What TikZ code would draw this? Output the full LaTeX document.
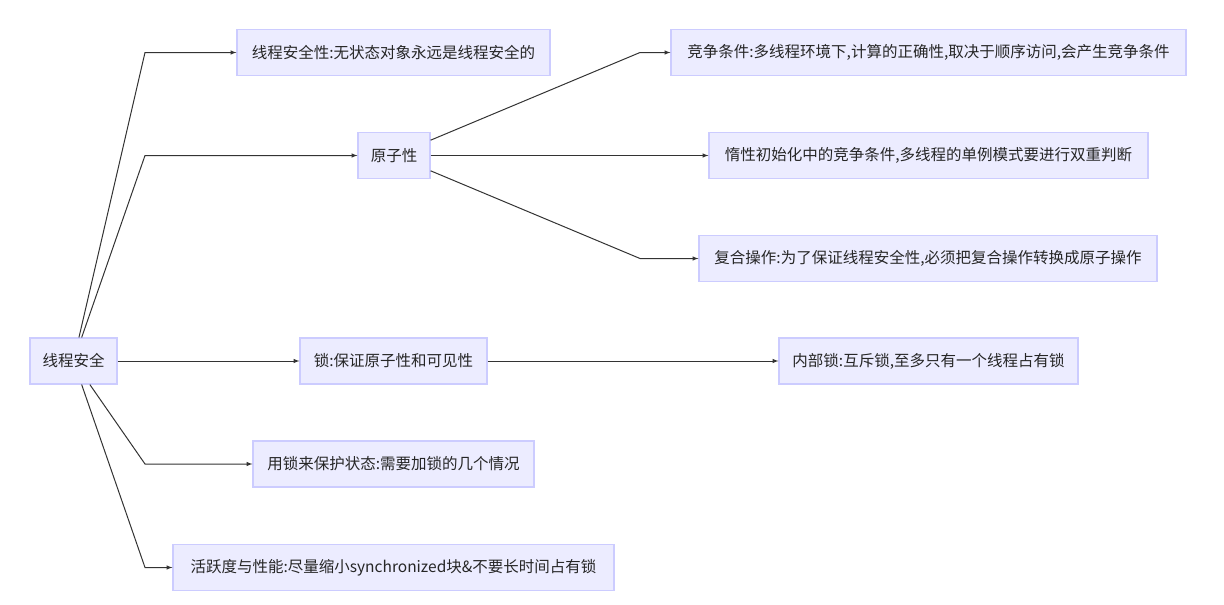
\documentclass[tikz,border=0pt]{standalone}
\usepackage{fontspec}
\setmainfont{Noto Sans CJK SC}
\usetikzlibrary{arrows}

\definecolor{boxfill}{HTML}{ECECFF}
\definecolor{boxline}{HTML}{CCCCFF}
\definecolor{edgeline}{HTML}{333333}

\tikzset{
    topic/.style={draw=boxline, fill=boxfill, line width=1.2pt, inner xsep=8pt,
        minimum height=46pt, minimum width=#1, text=black!85,
        font=\fontsize{15.5}{18}\selectfont},
    topic/.default=80pt,
    edge/.style={edgeline, line width=1pt, -latex}
}

\begin{document}
\begin{tikzpicture}[x=1pt, y=-1pt]
                \useasboundingbox (0, 0) rectangle (1224, 605);
                \node [topic=87pt] (root) at (73.5, 361) {线程安全};
                \node [topic=313pt] (safety) at (393.5, 52.5) {线程安全性:无状态对象永远是线程安全的};
                \node [topic=72pt] (atomic) at (394, 155.5) {原子性};
                \node [topic=187pt] (lock) at (393.5, 361) {锁:保证原子性和可见性};
                \node [topic=281pt] (guard) at (393.5, 464) {用锁来保护状态:需要加锁的几个情况};
                \node [topic=441pt] (live) at (393.5, 567.5) {活跃度与性能:尽量缩小synchronized块\&不要长时间占有锁};
                \node [topic=515pt] (race) at (928.5, 52.5) {竞争条件:多线程环境下,计算的正确性,取决于顺序访问,会产生竞争条件};
                \node [topic=439pt] (lazy) at (928.5, 155.5) {惰性初始化中的竞争条件,多线程的单例模式要进行双重判断};
                \node [topic=458pt] (compound) at (928, 258.5) {复合操作:为了保证线程安全性,必须把复合操作转换成原子操作};
                \node [topic=299pt] (intrinsic) at (928.5, 361) {内部锁:互斥锁,至多只有一个线程占有锁};
                % bends of the connectors
                \coordinate (b1) at (145, 52.5);
                \coordinate (b2) at (145, 155.5);
                \coordinate (b3) at (145, 464);
                \coordinate (b4) at (145, 567.5);
                \coordinate (b5) at (640, 52.5);
                \coordinate (b6) at (640, 258.5);
                \draw [edge] (root) -- (b1) -- (safety);
                \draw [edge] (root) -- (b2) -- (atomic);
                \draw [edge] (root) -- (lock);
                \draw [edge] (root) -- (b3) -- (guard);
                \draw [edge] (root) -- (b4) -- (live);
                \draw [edge] (atomic) -- (b5) -- (race);
                \draw [edge] (atomic) -- (lazy);
                \draw [edge] (atomic) -- (b6) -- (compound);
                \draw [edge] (lock) -- (intrinsic);
            \end{tikzpicture}
\end{document}
